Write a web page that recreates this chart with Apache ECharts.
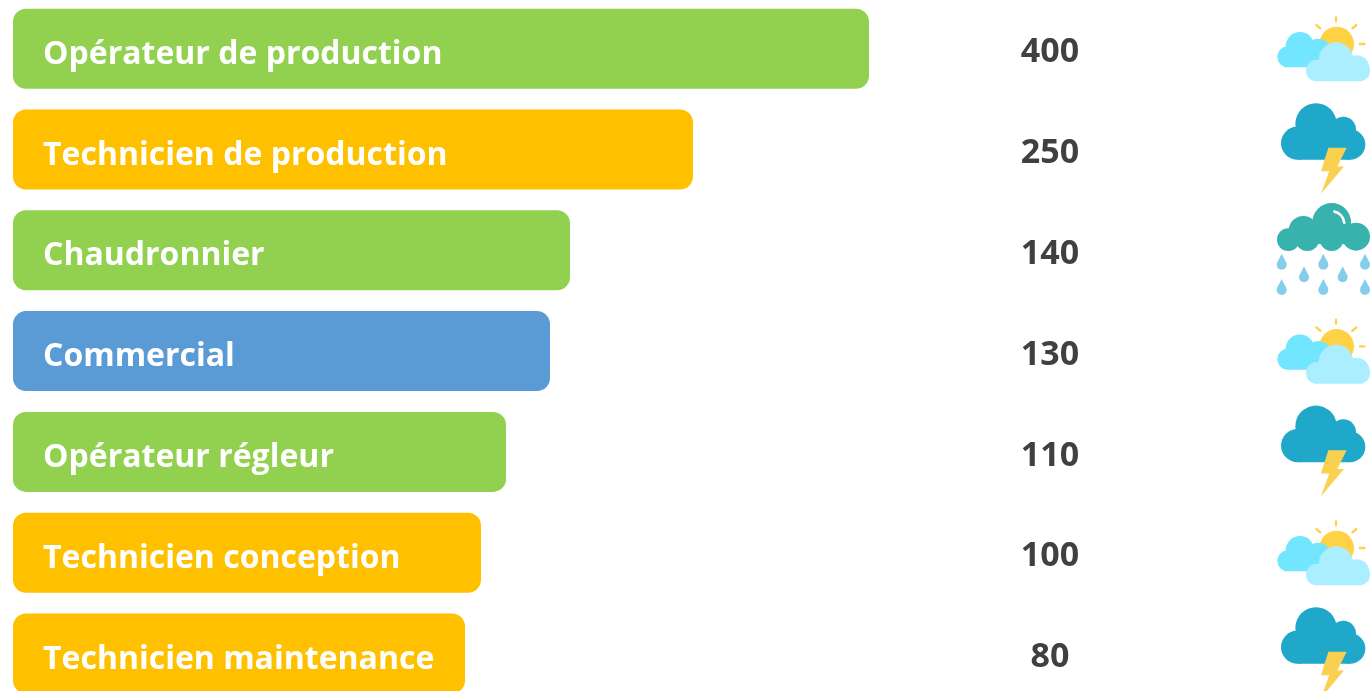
<!DOCTYPE html>
<html><head><meta charset="utf-8">
<style>html,body{margin:0;padding:0;background:#fff;overflow:hidden}#c{width:1371px;height:691px}</style>
<script src="https://cdn.jsdelivr.net/npm/echarts@6/dist/echarts.min.js"></script>
</head><body><div id="c"></div>
<script>
const categories = ['Opérateur de production','Technicien de production','Chaudronnier','Commercial','Opérateur régleur','Technicien conception','Technicien maintenance'];
const counts = [400,250,140,130,110,100,80];
const barLengths = [856,680,557,537,493,468,452];
const groups = ['prod','tech','prod','com','prod','tech','tech'];
const weather = ['partly','storm','rain','partly','storm','partly','storm'];

const groupColors = {prod:'#92D050',tech:'#FFC000',com:'#5B9BD5'};
const FONT = '"Open Sans"';
const countColumn = 1037, iconColumn = 1247;

const circ = (cx,cy,r,fill)=>({type:'circle',shape:{cx,cy,r},style:{fill}});
const box = (x,y,width,height,r,fill)=>({type:'rect',shape:{x,y,width,height,r},style:{fill}});
const poly = (points,fill)=>({type:'polygon',shape:{points},style:{fill}});
const ray = (x1,y1,x2,y2,stroke)=>({type:'line',shape:{x1,y1,x2,y2},style:{stroke,lineWidth:7,lineCap:'round'}});
const drop = (x,y,fill)=>[circ(x,y,15,fill),poly([[x,y-33],[x-14.2,y-5],[x+14.2,y-5]],fill)];

const icons = {
  partly:{dy:-44,parts:()=>{
    const s='#FFD145',a='#72E5FF',b='#ABEEFF';
    return [
      circ(230,118,52,s),ray(228,38,228,50,s),ray(169,61,181,71,s),ray(289,61,277,71,s),ray(300,118,313,118,s),
      circ(120,125,43,a),circ(175,140,38,a),box(52,125,160,63,31,a),
      circ(228,165,52,b),circ(290,190,38,b),box(138,165,192,65,32,b)
    ];}},
  storm:{dy:-55,parts:()=>{
    const c='#1FA8C9',y='#F9D050';
    return [
      circ(168,88,62,c),circ(113,146,50,c),circ(250,105,38,c),circ(270,150,46,c),box(113,110,157,86,0,c),
      poly([[205,160],[260,160],[232,216],[252,216],[183,298],[208,230],[183,230]],y)
    ];}},
  rain:{dy:-53,parts:()=>{
    const c='#38B2AC',d='#85CEEB';
    return [
      circ(215,75,58,c),circ(130,100,44,c),circ(85,127,34,c),circ(142,125,36,c),circ(215,125,36,c),circ(288,118,42,c),
      box(90,90,200,50,0,c),
      {type:'arc',shape:{cx:215,cy:80,r:38,startAngle:-1.35,endAngle:-0.1},style:{stroke:'#fff',fill:null,lineWidth:8,lineCap:'round'}},
      ...[[65,202],[190,202],[315,202],[132,240],[248,240],[65,278],[190,278],[315,278]].flatMap(p=>drop(p[0],p[1],d))
    ];}}
};

const chart = echarts.init(document.getElementById('c'),null,{renderer:'canvas'});
chart.setOption({
  animation:false,
  backgroundColor:'#fff',
  grid:{left:13,top:-1.7,width:1358,height:705.6,containLabel:false,outerBoundsMode:'none'},
  xAxis:{type:'value',min:0,max:1358,show:false},
  yAxis:{type:'category',data:categories,inverse:true,show:false},
  series:[
    {type:'bar',barWidth:80,silent:true,
     data:barLengths.map((v,i)=>({value:v,itemStyle:{color:groupColors[groups[i]],borderRadius:13}})),
     label:{show:true,position:'insideLeft',distance:30,offset:[0,6],formatter:p=>p.name,
            color:'#fff',fontFamily:FONT,fontWeight:'bold',fontSize:32}},
    {type:'scatter',symbolSize:1,silent:true,itemStyle:{color:'transparent',opacity:1},
     data:counts.map((v,i)=>({value:[countColumn,i]})),
     label:{show:true,position:'inside',offset:[0,4],formatter:p=>String(counts[p.dataIndex]),
            color:'#404040',fontFamily:FONT,fontWeight:'bold',fontSize:34}},
    {type:'custom',silent:true,clip:false,
     data:weather.map((w,i)=>[iconColumn,i]),
     encode:{x:0,y:1},
     renderItem:(params,api)=>{
       const p=api.coord([api.value(0),api.value(1)]);
       const ic=icons[weather[params.dataIndex]];
       return {type:'group',x:p[0],y:p[1]+ic.dy,scaleX:1/3,scaleY:1/3,children:ic.parts()};
     }}
  ]
});
</script></body></html>
